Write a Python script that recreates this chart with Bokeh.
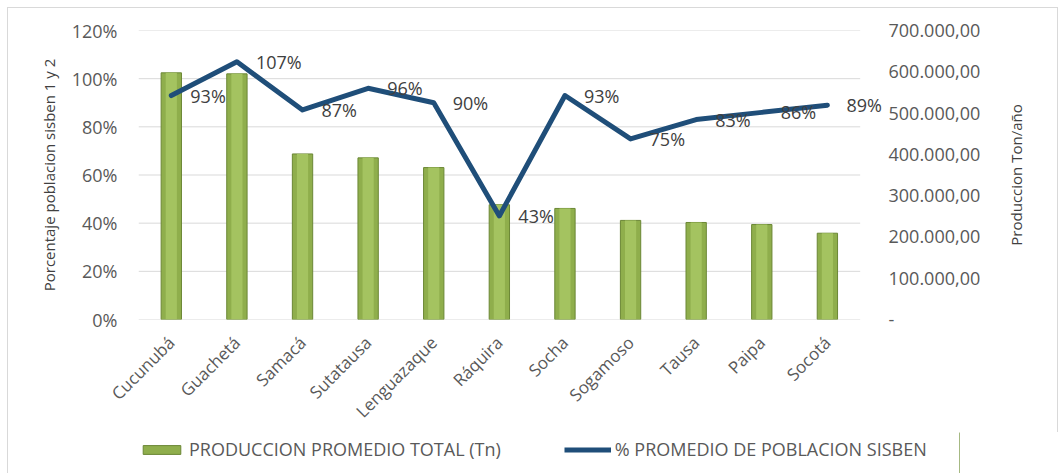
from bokeh.plotting import figure
from bokeh.models import (Range1d, LinearAxis, FixedTicker, CustomJSTickFormatter,
                          Legend, LegendItem, ColumnDataSource)
from bokeh.layouts import column, row
from bokeh.embed import file_html
from bokeh.resources import INLINE
from bokeh.core.properties import value
import math

municipios = ["Cucunubá", "Guachetá", "Samacá", "Sutatausa", "Lenguazaque", "Ráquira",
              "Socha", "Sogamoso", "Tausa", "Paipa", "Socotá"]
produccion = [597500, 595000, 401000, 391500, 368000, 278000, 269000, 240000, 235000, 230000, 209000]
porcentaje = [0.93, 1.07, 0.87, 0.96, 0.90, 0.43, 0.93, 0.75, 0.83, 0.86, 0.89]
etiquetas = ["93%", "107%", "87%", "96%", "90%", "43%", "93%", "75%", "83%", "86%", "89%"]
pct_ticks = [0, 0.2, 0.4, 0.6, 0.8, 1.0, 1.2]
prod_ticks = [0, 100000, 200000, 300000, 400000, 500000, 600000, 700000]
serie_barras = "PRODUCCION PROMEDIO TOTAL (Tn)"
serie_linea = "% PROMEDIO DE POBLACION SISBEN"
titulo_izq = "Porcentaje poblacion sisben 1 y 2"
titulo_der = "Produccion Ton/año"

FONT = "Open Sans"
BAR_FILL, BAR_LINE, BAR_HI = "#8fae4c", "#6b8735", "#a4c360"
LINE_COLOR = "#1f4e79"
BORDER = "1px solid #d9d9d9"
n = len(municipios)
idx = list(range(n))
src = ColumnDataSource(dict(x=idx, prod=produccion, pct=porcentaje, lab=etiquetas))

p = figure(x_range=Range1d(-0.5, n - 0.5 + 0.34), y_range=Range1d(0, 1.2),
           width=983, height=425, output_backend="svg", toolbar_location=None,
           min_border_left=130, min_border_right=109, min_border_top=22, min_border_bottom=110)
p.styles = {"border-left": BORDER, "border-top": BORDER}
p.outline_line_color = None
p.background_fill_color = "white"
p.border_fill_color = "white"
p.extra_y_ranges = {"prod": Range1d(0, 700000)}
p.xgrid.grid_line_color = None
p.ygrid.grid_line_color = None

# horizontal gridlines over the category area only
p.segment(x0=[-0.5] * len(pct_ticks), x1=[n - 0.5] * len(pct_ticks), y0=pct_ticks, y1=pct_ticks,
          line_color="#d9d9d9", line_width=1)

# bars
p.vbar(x="x", top="prod", width=0.31, source=src, y_range_name="prod",
       fill_color=BAR_FILL, line_color=BAR_LINE, line_width=1)
p.vbar(x="x", top="prod", width=0.17, source=src, y_range_name="prod",
       fill_color=BAR_HI, line_color=None)

# line
p.line(x="x", y="pct", source=src, line_color=LINE_COLOR, line_width=5,
       line_join="round", line_cap="round")
p.text(x="x", y="pct", text="lab", source=src, x_offset=19, text_baseline="middle",
       text_align="left", text_font=value(FONT), text_font_size="18px", text_color="#404040")

ax_style = dict(axis_line_color=None, major_tick_line_color=None, minor_tick_line_color=None,
                major_label_text_color="#595959", major_label_text_font=FONT,
                major_label_text_font_size="18px", axis_label_text_font=FONT,
                axis_label_text_font_size="15px", axis_label_text_color="#404040",
                axis_label_text_font_style="normal")

# left axis
p.yaxis.ticker = FixedTicker(ticks=pct_ticks)
p.yaxis.formatter = CustomJSTickFormatter(code="return Math.round(tick*100) + '%';")
p.yaxis.axis_label = titulo_izq
for k, v in ax_style.items():
    setattr(p.yaxis[0], k, v)
p.yaxis.major_label_standoff = 15
p.yaxis.axis_label_standoff = 10

# right axis (ticks only; its title is drawn in the strip to the right)
ra = LinearAxis(y_range_name="prod", ticker=FixedTicker(ticks=prod_ticks),
                formatter=CustomJSTickFormatter(code="""
if (tick == 0) return '-';
var s = Math.round(tick).toString();
s = s.replace(/\\B(?=(\\d{3})+(?!\\d))/g, '.');
return s + ',00';
"""))
for k, v in ax_style.items():
    setattr(ra, k, v)
ra.major_label_standoff = 0
p.add_layout(ra, "right")

# x axis
p.xaxis.ticker = FixedTicker(ticks=idx)
p.xaxis.major_label_overrides = {i: m for i, m in zip(idx, municipios)}
p.xaxis.axis_line_color = None
p.xaxis.major_tick_line_color = None
p.xaxis.minor_tick_line_color = None
p.xaxis.major_label_orientation = math.pi / 4
p.xaxis.major_label_text_font = FONT
p.xaxis.major_label_text_font_size = "17px"
p.xaxis.major_label_text_color = "#595959"
p.xaxis.major_label_standoff = 14

# narrow strip on the right carrying the right-hand axis title (reads bottom to top)
pr = figure(width=68, height=425, x_range=Range1d(0, 1), y_range=Range1d(0, 1),
            output_backend="svg", toolbar_location=None,
            min_border_left=35, min_border_right=0, min_border_top=22, min_border_bottom=110)
pr.styles = {"border-top": BORDER, "border-right": BORDER}
pr.outline_line_color = None
pr.grid.grid_line_color = None
pr.xaxis.visible = False
pr.yaxis.ticker = FixedTicker(ticks=[])
pr.yaxis.axis_label = titulo_der
for k, v in ax_style.items():
    setattr(pr.yaxis[0], k, v)
pr.yaxis.major_label_standoff = 0
pr.yaxis.axis_label_standoff = 0

# legend strip below the chart
pl = figure(width=1051, height=41, x_range=Range1d(0, 1), y_range=Range1d(0, 1),
            output_backend="svg", toolbar_location=None,
            min_border_left=130, min_border_right=100, min_border_top=0, min_border_bottom=0)
pl.styles = {"border-left": BORDER}
pl.axis.visible = False
pl.grid.grid_line_color = None
pl.outline_line_color = None
lb = pl.vbar(x=[5], top=[5], width=0.1, fill_color=BAR_FILL, line_color=BAR_LINE, line_width=1)
ll = pl.line(x=[5, 6], y=[5, 5], line_color=LINE_COLOR, line_width=5)
legend = Legend(items=[LegendItem(label=serie_barras, renderers=[lb]),
                       LegendItem(label=serie_linea, renderers=[ll])],
                orientation="horizontal", location=(0, 12), padding=0, margin=0,
                spacing=63, glyph_width=47, glyph_height=11, label_standoff=4,
                label_text_font=FONT, label_text_font_size="18px", label_text_color="#595959",
                border_line_color=None, background_fill_alpha=0)
pl.add_layout(legend)

layout = column(row(p, pr, spacing=0), pl, spacing=0)
layout.margin = (7, 0, 0, 7)

open("out.html", "w").write(file_html(layout, INLINE))
